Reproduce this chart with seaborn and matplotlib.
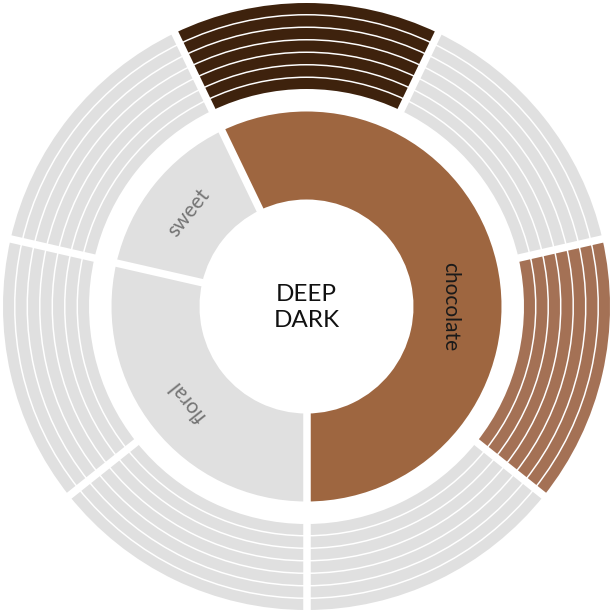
"""
Two-level flavour wheel: inner ring of flavour families, outer ring of
notes drawn as thin stacked bands.
"""
import numpy as np
import matplotlib
matplotlib.use("Agg")
import matplotlib.pyplot as plt
import seaborn as sns

# data
inner_labels = ["chocolate", "floral", "sweet"]
inner_values = [4, 2, 1]
inner_colors = ["#9E6640", "#E0E0E0", "#E0E0E0"]
inner_text_colors = ["#1A1A1A", "#747474", "#747474"]

outer_values = [1, 1, 1, 1, 1, 1, 1]
outer_colors = ["#3E220D", "#E0E0E0", "#A47155", "#E0E0E0",
                "#E0E0E0", "#E0E0E0", "#E0E0E0"]
n_bands = 7

center_text = "DEEP\nDARK"

sns.set_theme(style="white")
plt.rcParams["font.family"] = ["Lato", "DejaVu Sans"]

# geometry in pixel units (figure is 613 px, centre at 0,0)
half = 306.5
r_hole, r_inner = 107, 195
r_band0, r_outer = 217.5, 303.5
band_gap = 1.5
seg_gap_px = 7.5
start_bearing = -180.0 / len(outer_values)   # first outer segment centred on top

fig = plt.figure(figsize=(6.13, 6.13), dpi=100)
ax = fig.add_axes([0, 0, 1, 1])

startangle = 90 - start_bearing  # matplotlib angle, drawn clockwise

# inner ring
ax.pie(inner_values, radius=r_inner, colors=inner_colors,
       startangle=startangle, counterclock=False,
       wedgeprops=dict(width=r_inner - r_hole, linewidth=0))

# outer ring, stacked bands
band_w = (r_outer - r_band0 - band_gap * (n_bands - 1)) / n_bands
for k in range(n_bands):
    r = r_band0 + band_w * (k + 1) + band_gap * k
    ax.pie(outer_values, radius=r, colors=outer_colors,
           startangle=startangle, counterclock=False,
           wedgeprops=dict(width=band_w, linewidth=0))

# white gaps between segments
lw_pt = seg_gap_px * 72 / fig.dpi


def bearings(values):
    cum = np.concatenate([[0], np.cumsum(values)]) / np.sum(values) * 360
    return start_bearing + cum


def gap_line(b, r0, r1):
    t = np.deg2rad(b)
    ax.plot([r0 * np.sin(t), r1 * np.sin(t)], [r0 * np.cos(t), r1 * np.cos(t)],
            color="white", lw=lw_pt, solid_capstyle="butt")


for b in bearings(outer_values)[:-1]:
    gap_line(b, r_band0 - 2, r_outer + 2)
for b in bearings(inner_values)[:-1]:
    gap_line(b, r_hole - 2, r_inner + 2)

# labels along the inner ring, tops pointing outward
label_override = {"chocolate": 90.0}
label_r = {"chocolate": 144, "floral": 152, "sweet": 151}
ib = bearings(inner_values)
for i, lab in enumerate(inner_labels):
    b = label_override.get(lab, (ib[i] + ib[i + 1]) / 2)
    t = np.deg2rad(b)
    ax.text(label_r[lab] * np.sin(t), label_r[lab] * np.cos(t), lab,
            rotation=-b, rotation_mode="anchor", ha="center", va="center",
            fontsize=15, color=inner_text_colors[i])

ax.text(0, -1, center_text, ha="center", va="center", fontsize=17.5,
        color="#111111", linespacing=1.25)

ax.set_xlim(-half, half)
ax.set_ylim(-half, half)
ax.set_aspect("equal")
ax.axis("off")

fig.savefig("out.png", dpi=100, facecolor="white")
